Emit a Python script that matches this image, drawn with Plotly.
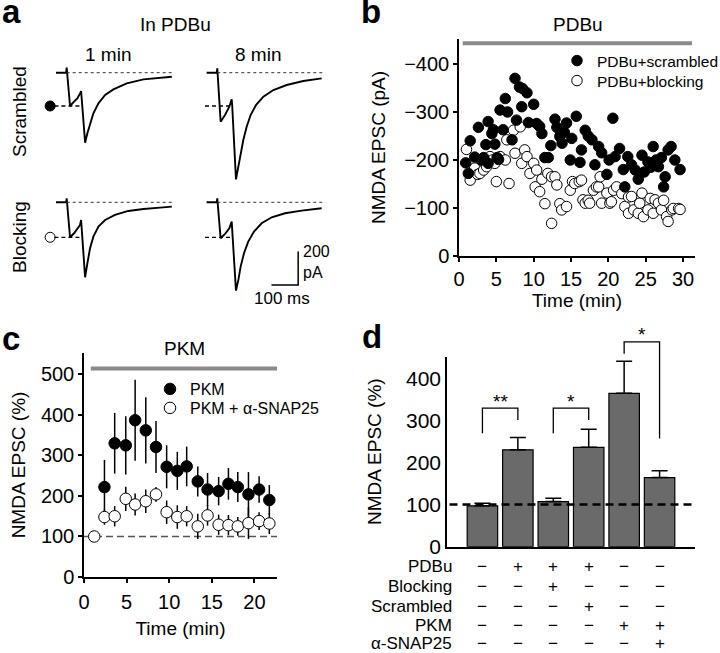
import plotly.graph_objects as go

W, H = 720, 653
FONT = "Liberation Sans, Arial, sans-serif"

# ---------------- data ----------------
# panel a: example NMDA EPSC traces (time in ms, current in pA)
SCR1_MS = [-40, -2, 0, 12.5, 27.5, 40, 50, 54, 56, 69, 77.5, 87.5, 100, 119, 144, 175, 225, 287.5, 350, 394]
SCR1_PA = [0, 0, 30, -200, -174, -154, -124, -110, -150, -420, -364, -304, -244, -184, -134, -100, -64, -40, -30, -24]
SCR8_MS = [-40, -2, 0, 12.5, 29, 45, 54, 56, 70, 79, 87.5, 97.5, 110, 125, 145, 172.5, 210, 260, 322.5, 391]
SCR8_PA = [0, 0, 26, -294, -254, -204, -160, -200, -640, -564, -484, -404, -324, -254, -194, -144, -104, -74, -50, -34]
BLK1_MS = [-40, -2, 0, 12.5, 27.5, 40, 50, 54, 56, 69, 77.5, 87.5, 100, 119, 144, 181, 231, 287.5, 350, 394]
BLK1_PA = [0, 0, 24, -210, -186, -162, -136, -106, -150, -450, -366, -276, -206, -146, -106, -76, -52, -40, -32, -26]
BLK8_MS = [-40, -2, 0, 12.5, 29, 45, 54, 56, 70, 79, 87.5, 100, 116, 137.5, 166, 204, 254, 316, 391]
BLK8_PA = [0, 0, 24, -216, -190, -156, -116, -160, -530, -466, -386, -306, -236, -176, -126, -90, -66, -50, -36]
LEVEL_SCR = -200      # first-response amplitude at 1 min (scrambled)
LEVEL_BLK = -210      # first-response amplitude at 1 min (blocking)
SCALE_MS = 100
SCALE_PA = 200

# panel b: NMDA EPSC amplitude (pA) over time (min)
SCR_T = [0.9, 1.25, 1.5, 2.1, 2.6, 3.0, 3.3, 3.6, 3.9, 3.9, 4.4, 4.6, 4.8, 5.1, 5.3, 5.5, 5.9, 6.2, 6.5, 7.1,
         7.5, 7.7, 8.1, 8.4, 8.5, 9.1, 9.3, 10.0, 10.4, 10.8, 11.1, 11.5, 11.95, 12.3, 12.85, 13.1, 13.5, 13.8, 14.1, 14.4,
         14.9, 15.1, 15.7, 16.2, 16.4, 16.9, 17.3, 17.8, 18.2, 18.7, 19.1, 19.8, 20.1, 20.6, 20.9, 21.5, 22.0, 22.2, 22.6, 23.1,
         23.6, 24.0, 24.5, 24.8, 25.3, 25.7, 26.0, 26.4, 26.7, 27.1, 27.4, 27.6, 28.0, 28.4, 28.9, 29.6]
SCR_PA = [-194, -172, -240, -206, -268, -200, -205, -232, -280, -193, -255, -263, -233, -205, -201, -304, -263, -328, -300, -242,
          -370, -283, -352, -311, -349, -340, -278, -316, -276, -270, -255, -205, -205, -230, -285, -268, -249, -235, -258, -277,
          -200, -245, -291, -195, -221, -262, -250, -242, -190, -228, -215, -170, -200, -287, -207, -224, -180, -144, -207, -190,
          -179, -160, -210, -175, -196, -185, -228, -200, -186, -205, -144, -165, -221, -228, -200, -180]
BLK_T = [1.0, 1.5, 2.1, 2.5, 2.8, 3.3, 3.7, 4.15, 4.5, 4.8, 5.0, 5.5, 6.2, 6.4, 6.7, 7.3, 7.5, 8.2, 8.4, 8.8,
         9.1, 9.5, 10.0, 10.2, 10.4, 10.8, 11.1, 11.5, 11.9, 12.4, 12.4, 12.85, 13.1, 13.5, 13.75, 14.4, 14.9, 15.2, 15.5, 16.1,
         16.4, 16.6, 16.9, 17.3, 17.5, 18.0, 18.4, 18.7, 18.9, 19.1, 19.8, 20.2, 20.4, 20.7, 21.1, 21.8, 22.2, 22.7, 22.7, 23.1,
         23.4, 24.0, 24.2, 24.5, 24.7, 25.3, 25.6, 26.0, 26.25, 26.7, 27.1, 27.4, 27.8, 28.0, 28.5, 28.7, 29.4, 29.6]
BLK_PA = [-222, -158, -183, -170, -172, -179, -186, -207, -200, -193, -155, -207, -200, -242, -151, -262, -214, -269, -193, -221,
          -207, -172, -193, -144, -179, -134, -160, -109, -172, -165, -68, -165, -148, -109, -96, -103, -137, -155, -151, -155,
          -158, -117, -110, -116, -110, -137, -144, -144, -165, -110, -131, -110, -113, -137, -144, -130, -103, -123, -89, -124,
          -96, -89, -110, -131, -82, -96, -120, -89, -117, -110, -96, -116, -82, -72, -96, -99, -99, -97]
PDBU_PERIOD = [0.5, 31.2]
PDBU_BAR_LEVEL = -443

# panel c: NMDA EPSC (%) over time (min), mean and error
PKM_T = [2.4, 3.6, 4.9, 6.0, 7.25, 8.45, 9.7, 10.95, 12.05, 13.35, 14.5, 15.8, 16.95, 18.05, 19.3, 20.55, 21.75]
PKM_MEAN = [222, 330, 325, 387, 362, 321, 272, 262, 273, 236, 216, 212, 230, 222, 204, 216, 190]
PKM_ERR = [67, 75, 72, 100, 82, 64, 53, 47, 49, 37, 41, 35, 39, 37, 55, 33, 37]
SNAP_T = [1.2, 2.4, 3.6, 4.9, 6.0, 7.25, 8.45, 9.7, 10.95, 12.05, 13.35, 14.5, 15.8, 16.95, 18.05, 19.3, 20.55, 21.75]
SNAP_MEAN = [100, 148, 150, 193, 179, 187, 204, 160, 148, 150, 125, 152, 129, 128, 125, 133, 138, 132]
SNAP_ERR = [0, 19, 25, 30, 27, 29, 18, 29, 29, 25, 31, 25, 25, 25, 23, 39, 22, 26]
PKM_PERIOD = [0.8, 22.7]
PKM_BAR_LEVEL = 515
BASELINE_PCT = 100

# panel d: summary bars
BAR_X = [1, 2, 3, 4, 5, 6]
BAR_MEAN = [97, 230, 107, 236, 364, 164]
BAR_ERR = [6, 29, 8, 43, 76, 16]
TABLE_ROWS = ["PDBu", "Blocking", "Scrambled", "PKM", "α-SNAP25"]
TABLE_SIGNS = [
    ["−", "+", "+", "+", "−", "−"],
    ["−", "−", "+", "−", "−", "−"],
    ["−", "−", "−", "+", "−", "−"],
    ["−", "−", "−", "−", "+", "+"],
    ["−", "−", "−", "−", "−", "+"],
]
SIG_PAIRS = [(1, 2), (3, 4), (5, 6)]
SIG_LABELS = ["**", "*", "*"]
SIG_TOP = [329, 329, 486]
SIG_LEG_BOTTOM = [(269, 301), (269, 301), (458, 257)]


def px(x):
    return x / W


def py(y):
    return 1 - y / H


fig = go.Figure()

# ---------------- panel a ----------------
A_AXES = [("x", "y"), ("x2", "y2"), ("x3", "y3"), ("x4", "y4")]
A_DATA = [(SCR1_MS, SCR1_PA), (SCR8_MS, SCR8_PA), (BLK1_MS, BLK1_PA), (BLK8_MS, BLK8_PA)]
A_LEVEL = [LEVEL_SCR, LEVEL_SCR, LEVEL_BLK, LEVEL_BLK]
shapes = []
for (xa, ya), (ms, pa), lev in zip(A_AXES, A_DATA, A_LEVEL):
    fig.add_trace(go.Scatter(x=ms, y=pa, xaxis=xa, yaxis=ya, mode="lines",
                             line=dict(color="black", width=1.9), showlegend=False, hoverinfo="skip"))
    shapes.append(dict(type="line", xref=xa, yref=ya, x0=0, x1=405, y0=0, y1=0,
                       line=dict(color="#333", width=1, dash="dot")))
    shapes.append(dict(type="line", xref=xa, yref=ya, x0=-46, x1=52, y0=lev, y1=lev,
                       line=dict(color="black", width=1.3, dash="4px,3px")))

# level markers (left column)
fig.add_trace(go.Scatter(x=[-62], y=[LEVEL_SCR], xaxis="x", yaxis="y", mode="markers",
                         marker=dict(size=10, color="black", line=dict(color="black", width=1)),
                         showlegend=False, hoverinfo="skip", cliponaxis=False))
fig.add_trace(go.Scatter(x=[-62], y=[LEVEL_BLK], xaxis="x3", yaxis="y3", mode="markers",
                         marker=dict(size=10, color="white", line=dict(color="black", width=1)),
                         showlegend=False, hoverinfo="skip", cliponaxis=False))
# scale bar (bottom right)
fig.add_trace(go.Scatter(x=[303 - SCALE_MS, 303, 303], y=[-496, -496, -496 + SCALE_PA], xaxis="x4", yaxis="y4",
                         mode="lines", line=dict(color="black", width=1.5), showlegend=False, hoverinfo="skip"))

# ---------------- panel b ----------------
fig.add_trace(go.Scatter(x=PDBU_PERIOD, y=[PDBU_BAR_LEVEL] * 2, xaxis="x5", yaxis="y5", mode="lines",
                         line=dict(color="#8a8a8a", width=4), showlegend=False, hoverinfo="skip"))
fig.add_trace(go.Scatter(x=BLK_T, y=BLK_PA, xaxis="x5", yaxis="y5", mode="markers", name="PDBu+blocking",
                         marker=dict(size=10.5, color="white", line=dict(color="black", width=1)),
                         legend="legend3"))
fig.add_trace(go.Scatter(x=SCR_T, y=SCR_PA, xaxis="x5", yaxis="y5", mode="markers", name="PDBu+scrambled",
                         marker=dict(size=10.5, color="black", line=dict(color="black", width=1)),
                         legend="legend"))

# ---------------- panel c ----------------
fig.add_trace(go.Scatter(x=PKM_PERIOD, y=[PKM_BAR_LEVEL] * 2, xaxis="x6", yaxis="y6", mode="lines",
                         line=dict(color="#8a8a8a", width=4), showlegend=False, hoverinfo="skip"))
fig.add_trace(go.Scatter(x=PKM_T, y=PKM_MEAN, xaxis="x6", yaxis="y6", mode="markers", name="PKM",
                         error_y=dict(type="data", array=PKM_ERR, color="black", thickness=1.5, width=0),
                         marker=dict(size=11.5, color="black", line=dict(color="black", width=1)),
                         legend="legend2"))
fig.add_trace(go.Scatter(x=SNAP_T, y=SNAP_MEAN, xaxis="x6", yaxis="y6", mode="markers", name="PKM + α-SNAP25",
                         error_y=dict(type="data", array=SNAP_ERR, color="black", thickness=1.5, width=0),
                         marker=dict(size=11.5, color="white", line=dict(color="black", width=1)),
                         legend="legend4"))
shapes.append(dict(type="line", xref="x6 domain", yref="y6", x0=0, x1=1, y0=BASELINE_PCT, y1=BASELINE_PCT,
                   line=dict(color="#555", width=1.5, dash="7px,4px"), layer="below"))

# ---------------- panel d ----------------
fig.add_trace(go.Bar(x=BAR_X, y=BAR_MEAN, xaxis="x7", yaxis="y7", width=0.86,
                     marker=dict(color="#6a6a6a", line=dict(color="black", width=1.2)),
                     error_y=dict(type="data", array=BAR_ERR, arrayminus=[0] * len(BAR_ERR), symmetric=False,
                                  color="black", thickness=1.5, width=8),
                     showlegend=False, hoverinfo="skip"))
shapes.append(dict(type="line", xref="x7 domain", yref="y7", x0=0.01, x1=0.99, y0=BASELINE_PCT, y1=BASELINE_PCT,
                   line=dict(color="black", width=2.5, dash="8px,5px")))
annotations = []
for (a, b), lab, top, (lb, rb) in zip(SIG_PAIRS, SIG_LABELS, SIG_TOP, SIG_LEG_BOTTOM):
    fig.add_trace(go.Scatter(x=[a, a, b, b], y=[lb, top, top, rb], xaxis="x8", yaxis="y8", mode="lines",
                             line=dict(color="black", width=1.3), showlegend=False, hoverinfo="skip"))
    annotations.append(dict(x=(a + b) / 2, y=top, xref="x8", yref="y8", text=lab, showarrow=False,
                            yanchor="middle", yshift=7, font=dict(size=19)))

# table below panel d
ROW_Y = [566, 586.5, 606, 625.5, 643.5]
for r, (lab, signs) in enumerate(zip(TABLE_ROWS, TABLE_SIGNS)):
    annotations.append(dict(x=px(454), y=py(ROW_Y[r]), xref="paper", yref="paper", text=lab, showarrow=False,
                            xanchor="right", yanchor="middle", font=dict(size=17)))
    for xi, s in zip(BAR_X, signs):
        annotations.append(dict(x=xi, y=py(ROW_Y[r]), xref="x7", yref="paper", text=s, showarrow=False,
                                xanchor="center", yanchor="middle", font=dict(size=17)))

# ---------------- text annotations ----------------
def txt(x, y, t, size=19, **kw):
    d = dict(x=px(x), y=py(y), xref="paper", yref="paper", text=t, showarrow=False,
             xanchor=kw.pop("xanchor", "center"), yanchor=kw.pop("yanchor", "middle"), font=dict(size=size))
    d.update(kw)
    annotations.append(d)


txt(0, 12, "<b>a</b>", 33, xanchor="left")
txt(359, 12, "<b>b</b>", 33, xanchor="left")
txt(0, 338, "<b>c</b>", 33, xanchor="left")
txt(360, 336, "<b>d</b>", 33, xanchor="left")
txt(175, 25, "In PDBu")
txt(108, 55, "1 min")
txt(258, 55, "8 min")
txt(20, 112, "Scrambled", textangle=-90)
txt(20, 237, "Blocking", textangle=-90)
txt(301, 262, "200<br>pA", 16, xanchor="left", align="left")
txt(282, 298, "100 ms", 17)
txt(578, 25, "PDBu")
txt(184, 348, "PKM")

# ---------------- layout ----------------
hidden = dict(visible=False, showgrid=False, zeroline=False, fixedrange=True, automargin=False)
A_XDOM = [[48, 178.8], [198.6, 329.4]]
A_YDOM = [[62.7, 186.0], [192.3, 315.6]]
layout_axes = {}
names = [("xaxis", "yaxis"), ("xaxis2", "yaxis2"), ("xaxis3", "yaxis3"), ("xaxis4", "yaxis4")]
for i, (xn, yn) in enumerate(names):
    col, row = i % 2, i // 2
    xd, yd = A_XDOM[col], A_YDOM[row]
    ax_id = "" if i == 0 else str(i + 1)
    layout_axes[xn] = dict(hidden, domain=[px(xd[0]), px(xd[1])], range=[-70, 420], anchor="y" + ax_id)
    layout_axes[yn] = dict(hidden, domain=[py(yd[1]), py(yd[0])], range=[-680, 60], anchor="x" + ax_id)

axstyle = dict(showline=True, linecolor="black", linewidth=1.5, ticks="outside", ticklen=4, tickwidth=1.5,
               tickcolor="black", showgrid=False, zeroline=False, fixedrange=True, automargin=False,
               tickfont=dict(size=20, family=FONT, color="black"))

layout_axes["xaxis5"] = dict(axstyle, domain=[px(459), px(695)], range=[0, 31.6], anchor="y5",
                             tickvals=[0, 5, 10, 15, 20, 25, 30], ticklabelstandoff=0,
                             title=dict(text="Time (min)", standoff=0, font=dict(size=19)))
layout_axes["yaxis5"] = dict(axstyle, domain=[py(256), py(39)], range=[0, -452], anchor="x5",
                             tickvals=[0, -100, -200, -300, -400],
                             title=dict(text="NMDA EPSC (pA)", standoff=14, font=dict(size=19)))
layout_axes["xaxis6"] = dict(axstyle, domain=[px(84), px(277)], range=[0, 22.65], anchor="y6",
                             tickvals=[0, 5, 10, 15, 20], ticklabelstandoff=2,
                             title=dict(text="Time (min)", standoff=10, font=dict(size=19)))
layout_axes["yaxis6"] = dict(axstyle, domain=[py(577), py(353)], range=[0, 553], anchor="x6",
                             tickvals=[0, 100, 200, 300, 400, 500],
                             title=dict(text="NMDA EPSC (%)", standoff=10, font=dict(size=19)))
layout_axes["xaxis7"] = dict(axstyle, domain=[px(447), px(695)], range=[0, 7], anchor="y7",
                             ticks="", showticklabels=False)
layout_axes["yaxis7"] = dict(axstyle, domain=[py(546.7), py(356.7)], range=[0, 451], anchor="x7",
                             tickvals=[0, 100, 200, 300, 400], ticks="",
                             tickfont=dict(size=21, family=FONT, color="black"),
                             title=dict(text="NMDA EPSC (%)", standoff=19, font=dict(size=19)))
layout_axes["xaxis8"] = dict(hidden, domain=[px(447), px(695)], range=[0, 7], anchor="y8")
layout_axes["yaxis8"] = dict(hidden, domain=[py(546.7), py(320)], range=[0, (546.7 - 320) / 0.4213], anchor="x8")

leg = dict(xanchor="left", yanchor="middle", bgcolor="rgba(0,0,0,0)", borderwidth=0, itemwidth=30)
fig.update_layout(
    width=W, height=H, margin=dict(l=0, r=0, t=0, b=0, autoexpand=False),
    paper_bgcolor="white", plot_bgcolor="rgba(0,0,0,0)",
    font=dict(family=FONT, size=19, color="black"),
    shapes=shapes, annotations=annotations,
    legend=dict(leg, x=px(557), y=py(61), font=dict(size=15.5)),
    legend3=dict(leg, x=px(557), y=py(81), font=dict(size=15.5)),
    legend2=dict(leg, x=px(150), y=py(389), font=dict(size=16)),
    legend4=dict(leg, x=px(150), y=py(408), font=dict(size=16)),
    hovermode=False,
)
fig.update_layout(**layout_axes)

fig.write_html(
    "out.html",
    config={"displayModeBar": False, "responsive": False},
    post_script="document.documentElement.style.margin='0';document.body.style.margin='0';document.body.style.padding='0';",
)
